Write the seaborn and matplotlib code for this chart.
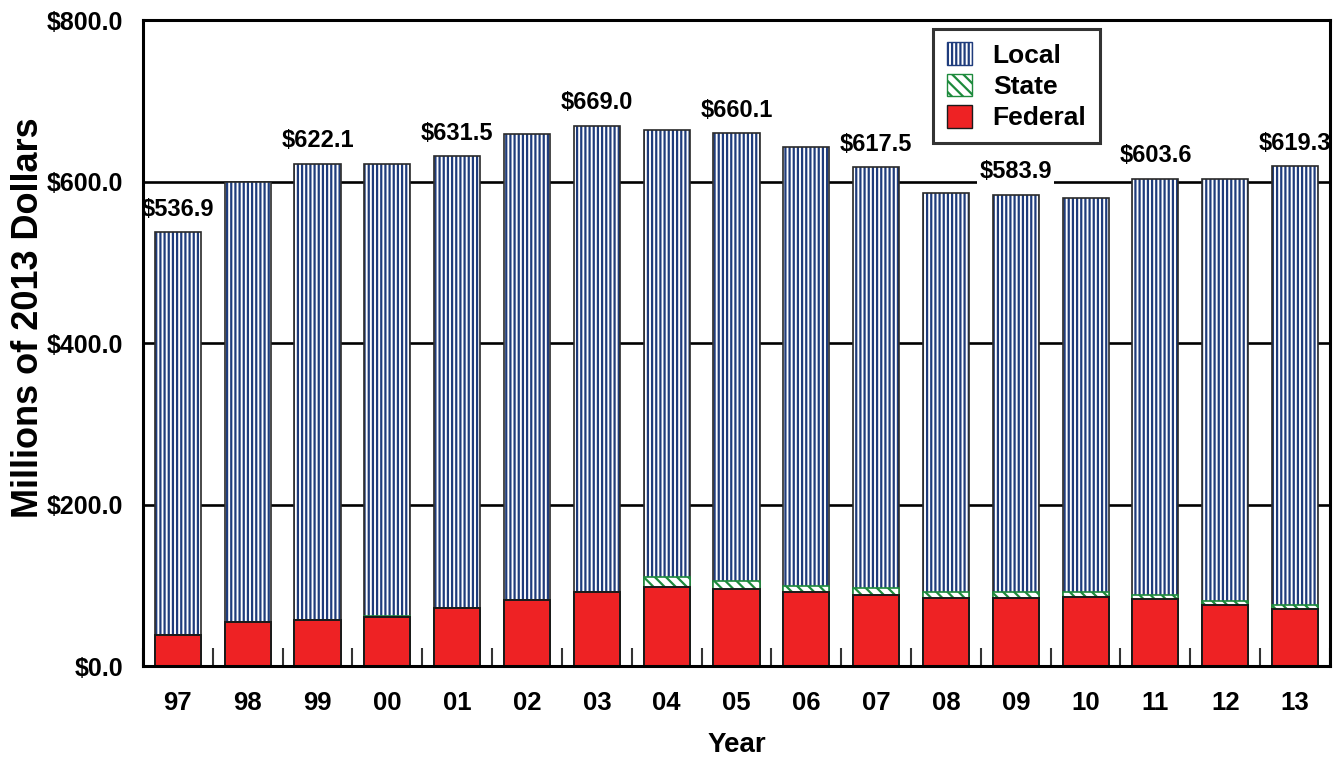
import numpy as np
import pandas as pd
import matplotlib
matplotlib.use("Agg")
import matplotlib.pyplot as plt
from matplotlib.patches import Patch
from matplotlib.ticker import MultipleLocator
import seaborn as sns

# data (millions of 2013 dollars)
years = ["97", "98", "99", "00", "01", "02", "03", "04", "05", "06", "07", "08", "09", "10", "11", "12", "13"]
federal = [38.4, 54.5, 56.6, 61.0, 71.8, 81.3, 91.2, 97.4, 95.7, 91.2, 87.9, 83.8, 84.6, 85.0, 82.5, 75.5, 70.2]
state = [0.5, 0.5, 0.5, 0.5, 0.5, 0.5, 0.5, 12.4, 9.6, 8.2, 8.3, 8.2, 6.6, 6.2, 5.8, 5.4, 5.7]
total = [536.9, 599.8, 622.1, 621.6, 631.5, 659.3, 669.0, 663.6, 660.1, 642.5, 617.5, 585.4, 583.9, 579.8, 603.6, 603.0, 619.3]
labelled = ["97", "99", "01", "03", "05", "07", "09", "11", "13"]

NAVY = "#1f3c7c"
GREEN = "#1d8a3c"
RED = "#ee2224"

df = pd.DataFrame({"year": years, "federal": federal, "state": state, "total": total})
df["fed_state"] = df["federal"] + df["state"]

sns.set_style("white")
plt.rcParams["font.family"] = ["Liberation Sans", "DejaVu Sans"]
plt.rcParams["font.weight"] = "bold"
plt.rcParams["hatch.linewidth"] = 1.6
for k in ["text.color", "axes.labelcolor", "xtick.color", "ytick.color"]:
    plt.rcParams[k] = "black"

fig = plt.figure(figsize=(13.4, 7.61), dpi=100)
ax = fig.add_axes([0.1067, 0.1248, 0.8858, 0.8489])

W = 0.66
# layered bars: total (local on top), federal+state, federal
sns.barplot(data=df, x="year", y="total", ax=ax, width=W, color="white", zorder=3)
for b in ax.containers[-1]:
    b.set_facecolor("white")
    b.set_edgecolor(NAVY)
    b.set_hatch("||||")
    b.set_linewidth(0)
sns.barplot(data=df, x="year", y="total", ax=ax, width=W, color="white", zorder=3.1)
for b in ax.containers[-1]:
    b.set_facecolor("none")
    b.set_edgecolor("#2a2a2a")
    b.set_linewidth(1.2)

sns.barplot(data=df, x="year", y="fed_state", ax=ax, width=W, color="white", zorder=4)
for b in ax.containers[-1]:
    b.set_facecolor("white")
    b.set_edgecolor(GREEN)
    b.set_hatch("\\\\\\")
    b.set_linewidth(1.2)

sns.barplot(data=df, x="year", y="federal", ax=ax, width=W, color=RED, zorder=5)
for b in ax.containers[-1]:
    b.set_facecolor(RED)
    b.set_edgecolor("#1a1a1a")
    b.set_linewidth(1.4)

# value labels
for i, (yr, tot) in enumerate(zip(years, total)):
    if yr in labelled:
        ax.annotate(f"${tot:.1f}", (i, tot), xytext=(0, 16.5), textcoords="offset points",
                    ha="center", va="center", fontsize=17, fontweight="bold", zorder=6,
                    color="black",
                    bbox=dict(boxstyle="square,pad=0.1", fc="white", ec="none"))

ax.set_ylim(0, 800)
ax.set_xlim(-0.5, len(years) - 0.5)
ax.set_yticks([0, 200, 400, 600, 800])
ax.set_yticklabels([f"${v:.1f}" for v in [0, 200, 400, 600, 800]])
ax.yaxis.grid(True, color="black", linewidth=1.9, zorder=1)
ax.set_axisbelow(True)
ax.xaxis.set_minor_locator(MultipleLocator(1, offset=0.5))
ax.tick_params(axis="x", which="major", length=0, pad=18, labelsize=18.5, labelcolor="black")
ax.tick_params(axis="x", which="minor", direction="in", length=13, width=1.5, color="#333333", bottom=True)
ax.tick_params(axis="y", which="major", length=0, pad=14, labelsize=18, labelcolor="black")
for lab in ax.get_xticklabels() + ax.get_yticklabels():
    lab.set_fontweight("bold")

for s in ax.spines.values():
    s.set_visible(True)
    s.set_color("black")
    s.set_linewidth(2.2)
    s.set_zorder(7)

ax.set_xlabel("Year", fontsize=20, fontweight="bold", labelpad=12, color="black")
ax.set_ylabel("Millions of 2013 Dollars", fontsize=26, fontweight="bold", color="black")
ax.yaxis.set_label_coords(-0.082, 0.539)

handles = [Patch(facecolor="white", edgecolor=NAVY, hatch="||||", label="Local"),
           Patch(facecolor="white", edgecolor=GREEN, hatch="\\\\\\", label="State"),
           Patch(facecolor=RED, edgecolor="#1a1a1a", label="Federal")]
leg = ax.legend(handles=handles, loc="upper right", bbox_to_anchor=(0.806, 0.986),
                prop={"weight": "bold", "size": 19}, frameon=True, fancybox=False,
                handlelength=0.95, handleheight=0.95, labelspacing=0.22, handletextpad=0.8,
                borderpad=0.5, borderaxespad=0, labelcolor="black")
leg.get_frame().set_edgecolor("black")
leg.get_frame().set_linewidth(2.2)
leg.set_zorder(8)

fig.savefig("out.png", dpi=100)
